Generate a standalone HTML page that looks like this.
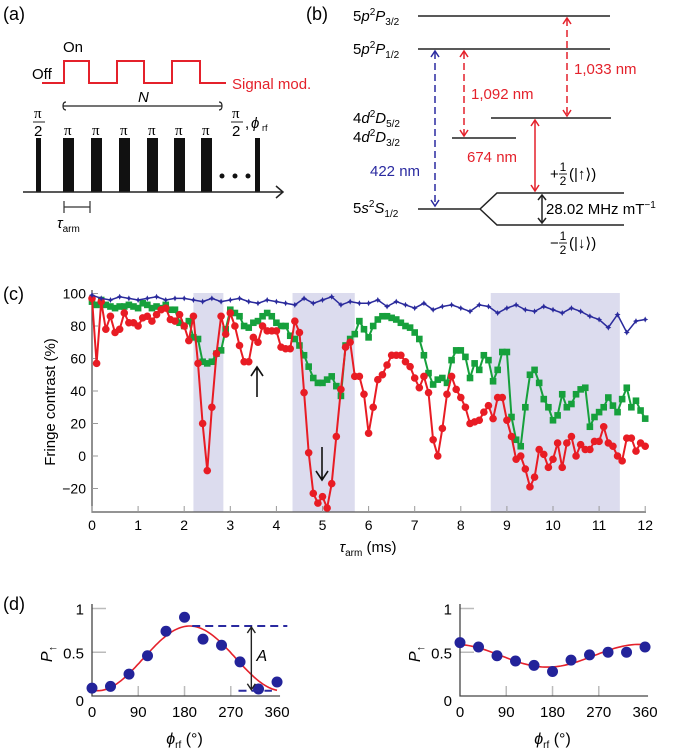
<!DOCTYPE html>
<html><head><meta charset="utf-8"><style>
html,body{margin:0;padding:0;background:#fff;}
svg{display:block;font-family:"Liberation Sans",sans-serif;}
</style></head><body>
<svg id="fig" width="685" height="751" viewBox="0 0 685 751" xmlns="http://www.w3.org/2000/svg">
<g>
<text x="3" y="20" font-size="18">(a)</text>
<text x="63" y="52" font-size="15">On</text>
<text x="32" y="79" font-size="15">Off</text>
<polyline fill="none" stroke="#e4212b" stroke-width="2" points="42,83 64,83 64,61 89,61 89,83 117,83 117,61 144,61 144,83 172,83 172,61 200,61 200,83 226,83"/>
<text x="232" y="89" font-size="15" fill="#e4212b">Signal mod.</text>
<path d="M66,102 q-3,0 -3,4 q0,4 3,4 M63,106 L222,106 M219,102 q3,0 3,4 q0,4 -3,4" fill="none" stroke="#222" stroke-width="1.2"/>
<text x="138" y="102" font-size="15" font-style="italic">N</text>
<g font-size="15">
<text x="34" y="118" font-family="Liberation Serif">π</text><line x1="33" y1="122" x2="45" y2="122" stroke="#222"/><text x="34" y="136">2</text>
<text x="64" y="135" font-family="Liberation Serif">π</text><text x="92" y="135" font-family="Liberation Serif">π</text><text x="120" y="135" font-family="Liberation Serif">π</text><text x="148" y="135" font-family="Liberation Serif">π</text><text x="175" y="135" font-family="Liberation Serif">π</text><text x="202" y="135" font-family="Liberation Serif">π</text>
<text x="232" y="118" font-family="Liberation Serif">π</text><line x1="231" y1="122" x2="243" y2="122" stroke="#222"/><text x="232" y="136">2</text>
<text x="245" y="128">,</text><text x="251" y="128" font-style="italic">ϕ</text><text x="262" y="131" font-size="9">rf</text>
</g>
<g fill="#111">
<rect x="36" y="138" width="5" height="54"/><rect x="63" y="138" width="11" height="54"/><rect x="91" y="138" width="11" height="54"/><rect x="119" y="138" width="11" height="54"/><rect x="147" y="138" width="11" height="54"/><rect x="174" y="138" width="11" height="54"/><rect x="201" y="138" width="11" height="54"/><rect x="255" y="138" width="5" height="54"/>
<circle cx="222" cy="176" r="2.5"/><circle cx="235" cy="176" r="2.5"/><circle cx="248" cy="176" r="2.5"/>
</g>
<line x1="23" y1="192" x2="282" y2="192" stroke="#222" stroke-width="1.5"/>
<path d="M276,186 L283,192 L276,198" fill="none" stroke="#222" stroke-width="1.5"/>
<path d="M64,201 V213 M64,207 H90 M90,201 V213" stroke="#333" stroke-width="1.2" fill="none"/>
<text x="57" y="228" font-size="15" font-style="italic">τ<tspan font-size="10" font-style="normal" dy="4">arm</tspan></text>
</g>
<g font-size="15">
<text x="306" y="20" font-size="18">(b)</text>
<g stroke="#222" stroke-width="1.5" fill="none">
<line x1="418" y1="16" x2="610" y2="16"/><line x1="418" y1="49" x2="610" y2="49"/>
<line x1="491" y1="118" x2="611" y2="118"/><line x1="452" y1="138" x2="516" y2="138"/>
<path d="M418,209 H480 L497,193 H624 M480,209 L497,225 H624"/>
</g>
<g>
<text x="353" y="21">5<tspan font-style="italic">p</tspan><tspan font-size="10" dy="-6">2</tspan><tspan font-style="italic" dy="6">P</tspan><tspan font-size="10" dy="4">3/2</tspan></text>
<text x="353" y="54">5<tspan font-style="italic">p</tspan><tspan font-size="10" dy="-6">2</tspan><tspan font-style="italic" dy="6">P</tspan><tspan font-size="10" dy="4">1/2</tspan></text>
<text x="353" y="123">4<tspan font-style="italic">d</tspan><tspan font-size="10" dy="-6">2</tspan><tspan font-style="italic" dy="6">D</tspan><tspan font-size="10" dy="4">5/2</tspan></text>
<text x="353" y="142">4<tspan font-style="italic">d</tspan><tspan font-size="10" dy="-6">2</tspan><tspan font-style="italic" dy="6">D</tspan><tspan font-size="10" dy="4">3/2</tspan></text>
<text x="353" y="213">5<tspan font-style="italic">s</tspan><tspan font-size="10" dy="-6">2</tspan><tspan font-style="italic" dy="6">S</tspan><tspan font-size="10" dy="4">1/2</tspan></text>
</g>
<g fill="none" stroke-width="1.5">
<line x1="435" y1="52" x2="435" y2="206" stroke="#2a2aa0" stroke-dasharray="7,4"/><path d="M431,57 L435,51 L439,57 M431,200 L435,206 L439,200" stroke="#2a2aa0"/>
<line x1="464" y1="52" x2="464" y2="135" stroke="#e4212b" stroke-dasharray="7,4"/><path d="M460,57 L464,51 L468,57 M460,130 L464,136 L468,130" stroke="#e4212b"/>
<line x1="567" y1="19" x2="567" y2="115" stroke="#e4212b" stroke-dasharray="7,4"/><path d="M563,24 L567,18 L571,24 M563,110 L567,116 L571,110" stroke="#e4212b"/>
<line x1="535" y1="121" x2="535" y2="190" stroke="#e4212b"/><path d="M531,126 L535,120 L539,126 M531,185 L535,191 L539,185" stroke="#e4212b"/>
<line x1="542" y1="196" x2="542" y2="222" stroke="#222"/><path d="M538,200 L542,195 L546,200 M538,218 L542,223 L546,218" stroke="#222"/>
</g>
<text x="370" y="176" fill="#2a2aa0">422 nm</text>
<text x="471" y="99" fill="#e4212b">1,092 nm</text>
<text x="574" y="74" fill="#e4212b">1,033 nm</text>
<text x="467" y="162" fill="#e4212b">674 nm</text>
<g>
<text x="550" y="179">+</text><text x="563" y="171" font-size="12" text-anchor="middle">1</text><line x1="559" y1="174" x2="567" y2="174" stroke="#222"/><text x="563" y="185" font-size="12" text-anchor="middle">2</text><text x="569" y="179">(|↑⟩)</text>
</g>
<text x="546" y="214">28.02 MHz mT<tspan font-size="10" dy="-6">−1</tspan></text>
<g>
<text x="550" y="248">−</text><text x="563" y="240" font-size="12" text-anchor="middle">1</text><line x1="559" y1="243" x2="567" y2="243" stroke="#222"/><text x="563" y="254" font-size="12" text-anchor="middle">2</text><text x="569" y="248">(|↓⟩)</text>
</g>
</g>
<g id="pc">
<text x="3" y="300" font-size="18">(c)</text>
<text transform="translate(55,402) rotate(-90)" text-anchor="middle" font-size="15">Fringe contrast (%)</text>
<text x="368" y="552" text-anchor="middle" font-size="15"><tspan font-style="italic">τ</tspan><tspan font-size="10" dy="4">arm</tspan><tspan dy="-4"> (ms)</tspan></text>
</g>
<g id="pd">
<text x="3" y="610" font-size="18">(d)</text>
</g>
</svg>
<script>
const cTimeStep = 0.1;
const blueStep = 0.2;
const cXTicks = [0,1,2,3,4,5,6,7,8,9,10,11,12];
const cYTicks = [100,80,60,40,20,0,-20];
const shadeStart = [2.2, 4.35, 8.65];
const shadeEnd = [2.85, 5.7, 11.45];
const blueValues = [99,97,96,98,97,96,97,98,96,97,97,
 96,95,97,95,96,97,95,94,96,
 95,94,93,97,94,96,98,93,95,94,
 94,96,92,95,93,91,94,90,92,93,
 91,89,93,92,88,91,93,90,89,92,
 90,88,91,89,86,84,79,87,76,83,84];
const redValues = [97,57,95,78,86,76,78,88,82,82,
 80,85,86,83,87,90,91,84,83,87,
 80,71,86,57,20,-9,30,63,86,75,
 88,80,68,58,58,73,70,80,77,77,
 77,67,66,66,83,76,39,2,-23,-29,
 -25,-32,-17,12,41,67,70,49,49,38,
 14,30,47,50,56,62,62,62,58,55,
 48,42,49,39,10,0,17,38,49,41,
 36,30,20,21,22,27,31,23,36,36,
 22,12,-2,0,-8,-19,-13,4,1,-7,
 -2,8,-7,8,12,0,7,4,4,9,
 9,18,8,6,0,-3,11,11,3,8,6];
const greenValues = [95,93,96,93,92,91,92,92,93,92,
 91,94,93,91,92,91,93,90,90,82,
 80,83,73,72,58,57,58,63,65,78,
 90,88,86,80,79,82,83,86,88,86,
 82,80,80,74,72,68,62,55,48,45,
 45,47,49,43,37,68,72,75,83,78,
 73,80,84,86,86,85,84,82,80,79,
 76,72,62,51,44,47,48,45,59,65,
 65,61,48,57,53,62,59,46,53,64,
 64,24,10,6,30,50,53,45,35,30,
 22,25,38,30,32,38,41,42,18,24,
 27,30,36,31,27,35,42,30,34,28,23];
const dPhases = [0,36,72,108,144,180,216,252,288,324,360];
const dLeftValues = [0.09,0.11,0.25,0.46,0.74,0.90,0.65,0.58,0.39,0.08,0.16];
const dRightValues = [0.61,0.56,0.46,0.40,0.35,0.28,0.41,0.47,0.50,0.50,0.56];
const dXTicks = [0,90,180,270,360];
const dYTicks = [0,0.5,1];
const dLeftFit = [0.43,0.37,190];
const dRightFit = [0.46,0.13,-10];

const NS = "http://www.w3.org/2000/svg";
function mk(parent, tag, attrs){const e=document.createElementNS(NS,tag);for(const k in attrs)e.setAttribute(k,attrs[k]);parent.appendChild(e);return e;}

const cx = t => 92 + t*46.1;
const cy = v => 456 - v*1.625;
const pc = document.getElementById('pc');
shadeStart.forEach((s,i)=>{
  const r = mk(pc,'rect',{x:cx(s),y:293,width:cx(shadeEnd[i])-cx(s),height:219,fill:'#dcdcee'});
  
  
});
const axC = mk(pc,'path',{d:'M92,290 V512 H646',fill:'none',stroke:'#555','stroke-width':1.3});


cXTicks.forEach(t=>{
  const l = mk(pc,'line',{x1:cx(t),x2:cx(t),y1:512,y2:506,stroke:'#999'});
  
  
  const tx = mk(pc,'text',{x:cx(t),y:530,'text-anchor':'middle','font-size':14});
  tx.textContent = t;
  
  
});
cYTicks.forEach(v=>{
  const l = mk(pc,'line',{x1:92,x2:98,y1:cy(v),y2:cy(v),stroke:'#999'});
  
  
  const tx = mk(pc,'text',{x:86,y:cy(v)+5,'text-anchor':'end','font-size':14});
  tx.textContent = v<0 ? '−'+(-v) : v;
  
  
});
function series(vals, step, color, name, marker){
  const g = mk(pc,'g',{});
  
  
  const pts = vals.map((v,i)=>cx(i*step).toFixed(1)+','+cy(v).toFixed(1)).join(' ');
  mk(g,'polyline',{points:pts,fill:'none',stroke:color,'stroke-width':marker==='star'?1.5:2});
  vals.forEach((v,i)=>{
    const x=cx(i*step), y=cy(v); let m;
    if(marker==='circle') m = mk(g,'circle',{cx:x,cy:y,r:3.8,fill:color});
    else if(marker==='square') m = mk(g,'rect',{x:x-3.3,y:y-3.3,width:6.6,height:6.6,fill:color});
    else m = mk(g,'path',{d:`M${x},${y-3} L${x+1},${y-1} L${x+3},${y} L${x+1},${y+1} L${x},${y+3} L${x-1},${y+1} L${x-3},${y} L${x-1},${y-1}Z`,fill:color});
    
    
  });
}
series(greenValues, cTimeStep, '#16a03c', 'green-series', 'square');
series(redValues, cTimeStep, '#e81c24', 'red-series', 'circle');
series(blueValues, blueStep, '#2a2a9c', 'blue-series', 'star');
const ua = mk(pc,'path',{d:'M257,397 V368 M251,376 L257,367 L263,376',fill:'none',stroke:'#111','stroke-width':1.6});


const da = mk(pc,'path',{d:'M322,447 V479 M316,471 L322,480 L328,471',fill:'none',stroke:'#111','stroke-width':1.6});



const pd = document.getElementById('pd');
const dy = p => 696 - p*87.5;
function dPanel(x0, vals, fit, name){
  const dx = d => x0 + d*0.514;
  const g = mk(pd,'g',{});
  
  
  dYTicks.slice(1).forEach(p=>{
    const l = mk(g,'line',{x1:x0,x2:x0+14,y1:dy(p),y2:dy(p),stroke:'#bbb','stroke-width':1.5});
    
    
  });
  dXTicks.slice(1,4).forEach(d=>{
    const l = mk(g,'line',{x1:dx(d),x2:dx(d),y1:696,y2:686,stroke:'#bbb','stroke-width':1.5});
    
    
  });
  const a = mk(g,'path',{d:`M${x0},604 V696 H${dx(360)+3}`,fill:'none',stroke:'#444','stroke-width':1.3});
  
  
  dYTicks.forEach(p=>{
    const t = mk(g,'text',{x:x0-8,y:dy(p)+(p===0?10:6),'text-anchor':'end','font-size':15});
    t.textContent = p;
    
    
  });
  dXTicks.forEach(d=>{
    const t = mk(g,'text',{x:dx(d),y:717,'text-anchor':'middle','font-size':15});
    t.textContent = d;
    
    
  });
  const yl = mk(g,'text',{transform:`translate(${x0-40},654) rotate(-90)`,'text-anchor':'middle','font-size':16});
  yl.innerHTML = '<tspan font-style="italic">P</tspan><tspan font-size="11" dy="4">↑</tspan>';
  
  
  const xl = mk(g,'text',{x:dx(180),y:744,'text-anchor':'middle','font-size':16});
  xl.innerHTML = '<tspan font-style="italic">ϕ</tspan><tspan font-size="10" dy="4">rf</tspan><tspan dy="-4"> (°)</tspan>';
  
  
  let pts=[];
  for(let d=0; d<=360; d+=4){ pts.push(dx(d).toFixed(1)+','+dy(fit[0]+fit[1]*Math.cos((d-fit[2])*Math.PI/180)).toFixed(1)); }
  const f = mk(g,'polyline',{points:pts.join(' '),fill:'none',stroke:'#e4212b','stroke-width':1.6});
  
  
  vals.forEach((v,i)=>{
    const c = mk(g,'circle',{cx:dx(dPhases[i]),cy:dy(v),r:5.5,fill:'#23239a'});
    
    
  });
  return dx;
}
const dxL = dPanel(92, dLeftValues, dLeftFit, 'left-phase-scan');
dPanel(460, dRightValues, dRightFit, 'right-phase-scan');
const topY = dy(dLeftFit[0]+dLeftFit[1]), botY = dy(dLeftFit[0]-dLeftFit[1]);
const dash = mk(pd,'path',{d:`M${dxL(195)},${topY} H${dxL(380)} M${dxL(285)},${botY} H${dxL(350)}`,fill:'none',stroke:'#2a2aa0','stroke-width':2,'stroke-dasharray':'8,5'});


const ax0 = dxL(310);
const arr = mk(pd,'path',{d:`M${ax0},${topY+2} V${botY-2} M${ax0-4},${topY+7} L${ax0},${topY+1} L${ax0+4},${topY+7} M${ax0-4},${botY-7} L${ax0},${botY-1} L${ax0+4},${botY-7}`,fill:'none',stroke:'#222','stroke-width':1.4});


const al = mk(pd,'text',{x:dxL(320),y:dy(0.4),'font-size':16,'font-style':'italic'});
al.textContent='A';


</script>
</body></html>
